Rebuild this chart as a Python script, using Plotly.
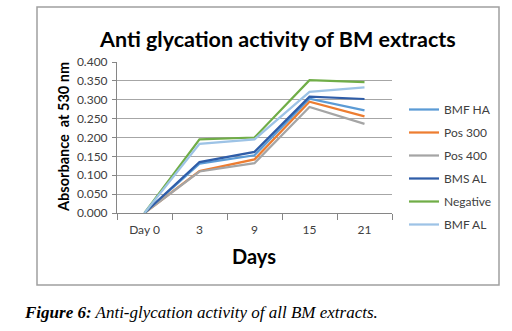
import plotly.graph_objects as go

days = ["Day 0", "3", "9", "15", "21"]
series_names = ["BMF HA", "Pos 300", "Pos 400", "BMS AL", "Negative", "BMF AL"]
bmf_ha = [0.0, 0.131, 0.153, 0.303, 0.272]
pos_300 = [0.0, 0.111, 0.142, 0.295, 0.256]
pos_400 = [0.0, 0.110, 0.132, 0.281, 0.236]
bms_al = [0.0, 0.135, 0.162, 0.308, 0.302]
negative = [0.0, 0.195, 0.200, 0.352, 0.347]
bmf_al = [0.0, 0.183, 0.195, 0.321, 0.333]
y_ticks = [0.0, 0.05, 0.1, 0.15, 0.2, 0.25, 0.3, 0.35, 0.4]

values = [bmf_ha, pos_300, pos_400, bms_al, negative, bmf_al]
colors = ["#5B9BD5", "#ED7D31", "#A5A5A5", "#2F5DA8", "#70AD47", "#9DC3E6"]

W, H = 512, 331
L, R, T, B = 117, 120, 62, 118
pw, ph = W - L - R, H - T - B


def px(x):
    return (x - L) / pw


def py(y):
    return (H - B - y) / ph


fig = go.Figure()
for i, (name, vals) in enumerate(zip(series_names, values)):
    fig.add_trace(go.Scatter(
        x=days, y=vals, name=name, mode="lines",
        line=dict(color=colors[i], width=2.25),
        legendgroup=name,
    ))

font_main = "Lato, Open Sans, sans-serif"

fig.update_layout(
    width=W, height=H,
    margin=dict(l=L, r=R, t=T, b=B),
    paper_bgcolor="white", plot_bgcolor="white",
    font=dict(family=font_main, size=12, color="#404040"),
    showlegend=True,
    legend=dict(
        x=px(404), y=py(95), xanchor="left", yanchor="top",
        font=dict(size=12, color="#404040", family=font_main),
        tracegroupgap=4, bgcolor="rgba(0,0,0,0)",
    ),
    xaxis=dict(
        type="category", range=[-0.5, 4.5],
        showgrid=False, showline=True, linecolor="#868686", linewidth=1,
        ticks="outside", tickson="boundaries", ticklen=6, tickcolor="#868686",
        ticklabelstandoff=6, tickfont=dict(size=12, color="#404040"),
    ),
    yaxis=dict(
        range=[0, 0.4], tickvals=y_ticks, tickformat=".3f",
        showgrid=True, gridcolor="#A6A6A6", gridwidth=1,
        showline=True, linecolor="#868686", linewidth=1,
        ticks="outside", ticklen=4, tickcolor="#868686",
        ticklabelstandoff=2, tickfont=dict(size=12, color="#404040"),
        zeroline=False,
    ),
    annotations=[
        dict(text="<b>Anti glycation activity of BM extracts</b>",
             x=px(277), y=py(39), xref="paper", yref="paper",
             xanchor="center", yanchor="middle", showarrow=False,
             font=dict(size=21.5, color="#000000", family=font_main)),
        dict(text="<b>Absorbance  at 530 nm</b>",
             x=px(63), y=py(137), xref="paper", yref="paper",
             xanchor="center", yanchor="middle", showarrow=False, textangle=-90,
             font=dict(size=14.5, color="#000000", family=font_main)),
        dict(text="<b>Days</b>",
             x=px(254), y=py(256), xref="paper", yref="paper",
             xanchor="center", yanchor="middle", showarrow=False,
             font=dict(size=20, color="#000000", family=font_main)),
        dict(text="<b><i>Figure 6:</i></b><i> Anti-glycation activity of all BM extracts.</i>",
             x=px(22), y=py(312), xref="paper", yref="paper",
             xanchor="left", yanchor="middle", showarrow=False,
             font=dict(size=17, color="#000000", family="Liberation Serif, serif")),
    ],
    shapes=[
        dict(type="rect", xref="paper", yref="paper",
             x0=px(37), x1=px(499), y0=py(285), y1=py(7),
             line=dict(color="#A0A0A0", width=1.5), fillcolor="rgba(0,0,0,0)",
             layer="below"),
    ],
)

fig.write_html("out.html")
